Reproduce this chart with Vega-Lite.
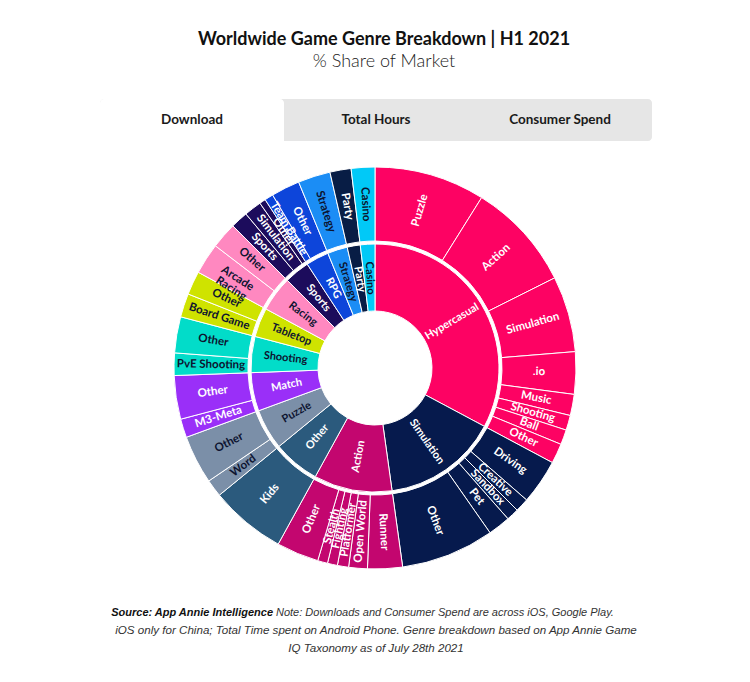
{
  "$schema": "https://vega.github.io/schema/vega-lite/v6.json",
  "background": "white",
  "padding": {"left": 100, "right": 98, "top": 31, "bottom": 10},
  "title": {
    "text": "Worldwide Game Genre Breakdown | H1 2021",
    "subtitle": "% Share of Market",
    "anchor": "middle",
    "dx": 8,
    "font": "Lato",
    "fontSize": 18,
    "fontWeight": "bold",
    "color": "#111111",
    "subtitleFont": "Lato",
    "subtitleFontSize": 18,
    "subtitleFontWeight": 300,
    "subtitleColor": "#222222",
    "subtitlePadding": 4,
    "offset": 28
  },
  "datasets": {
    "tabs": [
      {"tab": "Download"},
      {"tab": "Total Hours"},
      {"tab": "Consumer Spend"}
    ],
    "inner": [
      {"genre": "Hypercasual", "v": 32.8},
      {"genre": "Simulation", "v": 15.0},
      {"genre": "Action", "v": 10.2},
      {"genre": "Other", "v": 6.1},
      {"genre": "Puzzle", "v": 5.3},
      {"genre": "Match", "v": 5.0},
      {"genre": "Shooting", "v": 4.7},
      {"genre": "Tabletop", "v": 3.8},
      {"genre": "Racing", "v": 4.6},
      {"genre": "Sports", "v": 3.3},
      {"genre": "RPG", "v": 3.0},
      {"genre": "Strategy", "v": 2.6},
      {"genre": "Party", "v": 1.7},
      {"genre": "Casino", "v": 1.9}
    ],
    "outer": [
      {"genre": "Hypercasual", "sub": "Puzzle", "v": 8.9},
      {"genre": "Hypercasual", "sub": "Action", "v": 8.7},
      {"genre": "Hypercasual", "sub": "Simulation", "v": 6.1},
      {"genre": "Hypercasual", "sub": ".io", "v": 3.4},
      {"genre": "Hypercasual", "sub": "Music", "v": 1.7},
      {"genre": "Hypercasual", "sub": "Shooting", "v": 1.2},
      {"genre": "Hypercasual", "sub": "Ball", "v": 1.2},
      {"genre": "Hypercasual", "sub": "Other", "v": 1.6},
      {"genre": "Simulation", "sub": "Driving", "v": 3.6},
      {"genre": "Simulation", "sub": "Creative", "v": 1.1},
      {"genre": "Simulation", "sub": "Sandbox", "v": 1.0},
      {"genre": "Simulation", "sub": "Pet", "v": 1.8},
      {"genre": "Simulation", "sub": "Other", "v": 7.5},
      {"genre": "Action", "sub": "Runner", "v": 2.8},
      {"genre": "Action", "sub": "Open World", "v": 1.5},
      {"genre": "Action", "sub": "Platformer", "v": 0.9},
      {"genre": "Action", "sub": "Fighting", "v": 0.8},
      {"genre": "Action", "sub": "Stealth", "v": 0.8},
      {"genre": "Action", "sub": "Other", "v": 3.4},
      {"genre": "Other", "sub": "Kids", "v": 6.1},
      {"genre": "Puzzle", "sub": "Word", "v": 1.4},
      {"genre": "Puzzle", "sub": "Other", "v": 3.9},
      {"genre": "Match", "sub": "M3-Meta", "v": 1.5},
      {"genre": "Match", "sub": "Other", "v": 3.5},
      {"genre": "Shooting", "sub": "PvE Shooting", "v": 1.8},
      {"genre": "Shooting", "sub": "Other", "v": 2.9},
      {"genre": "Tabletop", "sub": "Board Game", "v": 1.9},
      {"genre": "Tabletop", "sub": "Other", "v": 1.9},
      {"genre": "Racing", "sub": "Arcade\nRacing", "v": 2.5},
      {"genre": "Racing", "sub": "Other", "v": 2.1},
      {"genre": "Sports", "sub": "Sports", "v": 1.4},
      {"genre": "Sports", "sub": "Simulation", "v": 1.4},
      {"genre": "Sports", "sub": "Other", "v": 0.5},
      {"genre": "RPG", "sub": "Team Battle", "v": 0.7},
      {"genre": "RPG", "sub": "Other", "v": 2.3},
      {"genre": "Strategy", "sub": "Strategy", "v": 2.6},
      {"genre": "Party", "sub": "Party", "v": 1.7},
      {"genre": "Casino", "sub": "Casino", "v": 1.9}
    ],
    "foot": [
      {"line": 1, "part": "source", "text": "Source: App Annie Intelligence"},
      {"line": 1, "part": "note", "text": "Note: Downloads and Consumer Spend are across iOS, Google Play."},
      {"line": 2, "part": "rest", "text": "iOS only for China; Total Time spent on Android Phone. Genre breakdown based  on App Annie Game"},
      {"line": 3, "part": "rest", "text": "IQ Taxonomy as of July 28th 2021"}
    ]
  },
  "spacing": 24,
  "center": true,
  "vconcat": [
    {
      "width": 552,
      "height": 42,
      "view": {"fill": "#e6e6e6", "cornerRadius": 4, "stroke": null},
      "data": {"name": "tabs"},
      "encoding": {
        "x": {"field": "tab", "type": "nominal", "sort": null, "scale": {"paddingInner": 0, "paddingOuter": 0}, "axis": null}
      },
      "layer": [
        {
          "transform": [{"filter": "datum.tab == 'Download'"}],
          "mark": {"type": "rect", "color": "white", "cornerRadiusTopLeft": 4, "cornerRadiusTopRight": 4}
        },
        {
          "mark": {"type": "text", "font": "Lato", "fontSize": 13.5, "fontWeight": "bold", "color": "#1a1a1a"},
          "encoding": {"text": {"field": "tab"}}
        }
      ]
    },
    {
      "width": 402,
      "height": 402,
      "view": {"stroke": null},
      "layer": [
        {
          "data": {"name": "inner"},
          "transform": [{"stack": "v", "groupby": [], "as": ["s0", "s1"]}],
          "mark": {"type": "arc", "radius": 124, "radius2": 57, "stroke": "white", "strokeWidth": 1},
          "encoding": {
            "theta": {"field": "s0", "type": "quantitative", "scale": {"domain": [0, 100]}},
            "theta2": {"field": "s1"},
            "color": {
              "field": "genre", "type": "nominal", "legend": null,
              "scale": {
                "domain": ["Hypercasual", "Simulation", "Action", "Other", "Puzzle", "Match", "Shooting", "Tabletop", "Racing", "Sports", "RPG", "Strategy", "Party", "Casino"],
                "range": ["#fd0263", "#061a4d", "#c3066f", "#2b5a7d", "#7b8fa8", "#9a2ff8", "#02dcc9", "#cfe300", "#ff88c0", "#1c0c5c", "#0d45da", "#1b8df5", "#081d45", "#01c9f7"]
              }
            }
          }
        },
        {
          "data": {"name": "outer"},
          "transform": [{"stack": "v", "groupby": [], "as": ["s0", "s1"]}],
          "mark": {"type": "arc", "radius": 201, "radius2": 127, "stroke": "white", "strokeWidth": 1},
          "encoding": {
            "theta": {"field": "s0", "type": "quantitative"},
            "theta2": {"field": "s1"},
            "color": {"field": "genre", "type": "nominal", "legend": null}
          }
        },
        {
          "data": {"name": "inner"},
          "transform": [
            {"stack": "v", "groupby": [], "as": ["s0", "s1"]},
            {"calculate": "(datum.s0 + datum.s1) / 2", "as": "m"},
            {"calculate": "datum.m * 3.6 < 180 ? datum.m * 3.6 - 90 : datum.m * 3.6 - 270", "as": "ang"}
          ],
          "mark": {"type": "text", "radius": 90, "font": "Lato", "fontSize": 11, "fontWeight": "bold", "align": "center", "baseline": "middle"},
          "encoding": {
            "theta": {"field": "m", "type": "quantitative", "stack": false},
            "angle": {"field": "ang", "type": "quantitative", "scale": null},
            "text": {"field": "genre"},
            "color": {
              "condition": {"test": "indexof(['Shooting','Tabletop','Puzzle','Racing','Casino','Strategy'], datum.genre) >= 0", "value": "#0d1430"},
              "value": "white"
            }
          }
        },
        {
          "data": {"name": "outer"},
          "transform": [
            {"stack": "v", "groupby": [], "as": ["s0", "s1"]},
            {"calculate": "(datum.s0 + datum.s1) / 2", "as": "m"},
            {"calculate": "datum.m * 3.6 < 180 ? datum.m * 3.6 - 90 : datum.m * 3.6 - 270", "as": "ang"}
          ],
          "mark": {"type": "text", "radius": 164, "font": "Lato", "fontSize": 11.5, "fontWeight": "bold", "align": "center", "baseline": "middle", "lineBreak": "\n", "lineHeight": 12},
          "encoding": {
            "theta": {"field": "m", "type": "quantitative", "stack": false},
            "angle": {"field": "ang", "type": "quantitative", "scale": null},
            "text": {"field": "sub"},
            "color": {
              "condition": {"test": "indexof(['Shooting','Tabletop','Puzzle','Racing','Casino','Strategy'], datum.genre) >= 0", "value": "#0d1430"},
              "value": "white"
            }
          }
        }
      ]
    },
    {
      "width": 552,
      "height": 72,
      "view": {"stroke": null},
      "data": {"name": "foot"},
      "encoding": {
        "y": {"field": "line", "type": "ordinal", "scale": {"type": "point", "padding": 1.25}, "axis": null},
        "text": {"field": "text"}
      },
      "layer": [
        {
          "transform": [{"filter": "datum.part == 'source'"}],
          "mark": {"type": "text", "align": "right", "baseline": "middle", "dx": -103, "font": "Liberation Sans", "fontStyle": "italic", "fontWeight": "bold", "fontSize": 11, "color": "#111111"}
        },
        {
          "transform": [{"filter": "datum.part == 'note'"}],
          "mark": {"type": "text", "align": "left", "baseline": "middle", "dx": -100, "font": "Liberation Sans", "fontStyle": "italic", "fontSize": 11, "color": "#333333"}
        },
        {
          "transform": [{"filter": "datum.part == 'rest'"}],
          "mark": {"type": "text", "align": "center", "baseline": "middle", "font": "Liberation Sans", "fontStyle": "italic", "fontSize": 11.6, "color": "#333333"}
        }
      ]
    }
  ],
  "config": {"view": {"stroke": null}}
}
